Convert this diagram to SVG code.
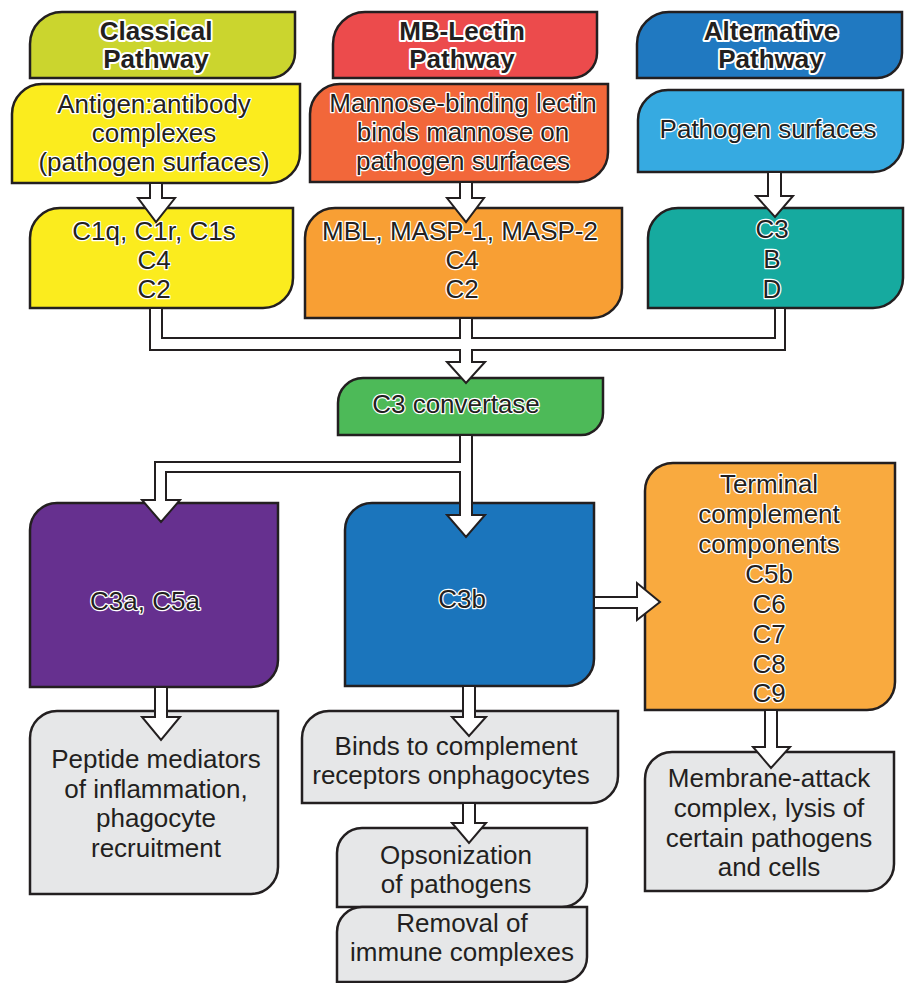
<svg xmlns="http://www.w3.org/2000/svg" width="909" height="983" viewBox="0 0 909 983">
<style>
.box{stroke:#231f20;stroke-width:2.5}
.hd{font-family:"Liberation Sans",Arial,sans-serif;font-weight:bold;font-size:26px;fill:#231f20;stroke:#fff;stroke-width:4;paint-order:stroke;stroke-linejoin:round;text-anchor:middle}
.tx{font-family:"Liberation Sans",Arial,sans-serif;font-size:26px;fill:#231f20;stroke:#fff;stroke-width:2.5;paint-order:stroke;stroke-linejoin:round;text-anchor:middle}
.tp{font-family:"Liberation Sans",Arial,sans-serif;font-size:26px;fill:#231f20;text-anchor:middle}
.pipe{fill:#fff;stroke:#231f20;stroke-width:2;stroke-linejoin:miter}
</style>
<rect width="909" height="983" fill="#fff"/>
<g id="classical-header">
<path class="box" fill="#cbd52e" d="M30 78 V44 A32 32 0 0 1 62 12 H295 V53 A25 25 0 0 1 270 78 Z"/>
<text class="hd" x="156" y="40">Classical</text>
<text class="hd" x="156" y="68">Pathway</text>
</g>
<g id="mblectin-header">
<path class="box" fill="#ec4b4c" d="M333 78 V44 A32 32 0 0 1 365 12 H597 V53 A25 25 0 0 1 572 78 Z"/>
<text class="hd" x="462" y="40">MB-Lectin</text>
<text class="hd" x="462" y="68">Pathway</text>
</g>
<g id="alternative-header">
<path class="box" fill="#2079c1" d="M637 78 V44 A32 32 0 0 1 669 12 H902 V53 A25 25 0 0 1 877 78 Z"/>
<text class="hd" x="771" y="40">Alternative</text>
<text class="hd" x="771" y="68">Pathway</text>
</g>
<g id="antigen">
<path class="box" fill="#fbec1e" d="M12 183 V114 A30 30 0 0 1 42 84 H300 V153 A30 30 0 0 1 270 183 Z"/>
<text class="tx" x="154" y="113">Antigen:antibody</text>
<text class="tx" x="154" y="142">complexes</text>
<text class="tx" x="154" y="171">(pathogen surfaces)</text>
</g>
<g id="mannose">
<path class="box" fill="#f2673a" d="M310 182 V114 A30 30 0 0 1 340 84 H608 V152 A30 30 0 0 1 578 182 Z"/>
<text class="tx" x="463" y="112">Mannose-binding lectin</text>
<text class="tx" x="463" y="141">binds mannose on</text>
<text class="tx" x="463" y="170">pathogen surfaces</text>
</g>
<g id="pathogen">
<path class="box" fill="#36aae1" d="M638 172 V120 A30 30 0 0 1 668 90 H903 V142 A30 30 0 0 1 873 172 Z"/>
<text class="tx" x="768" y="138">Pathogen surfaces</text>
</g>
<g id="c1">
<path class="box" fill="#fbec1e" d="M30 308 V238 A30 30 0 0 1 60 208 H293 V278 A30 30 0 0 1 263 308 Z"/>
<text class="tx" x="154" y="240">C1q, C1r, C1s</text>
<text class="tx" x="154" y="269">C4</text>
<text class="tx" x="154" y="298">C2</text>
</g>
<g id="mbl">
<path class="box" fill="#f89f34" d="M305 318 V238 A30 30 0 0 1 335 208 H622 V288 A30 30 0 0 1 592 318 Z"/>
<text class="tx" x="460" y="240">MBL, MASP-1, MASP-2</text>
<text class="tx" x="462" y="269">C4</text>
<text class="tx" x="462" y="298">C2</text>
</g>
<g id="c3bd">
<path class="box" fill="#16aa9f" d="M648 308 V238 A30 30 0 0 1 678 208 H903 V278 A30 30 0 0 1 873 308 Z"/>
<text class="tx" x="772" y="238">C3</text>
<text class="tx" x="772" y="268">B</text>
<text class="tx" x="772" y="298">D</text>
</g>
<g id="c3convertase">
<path class="box" fill="#4dba58" d="M338 435 V403 A25 25 0 0 1 363 378 H603 V413 A22 22 0 0 1 581 435 Z"/>
<text class="tx" x="456" y="413">C3 convertase</text>
</g>
<g id="c3a-c5a">
<path class="box" fill="#66308f" d="M30 687 V530 A27 27 0 0 1 57 503 H278 V660 A27 27 0 0 1 251 687 Z"/>
<text class="tx" x="145" y="610">C3a, C5a</text>
</g>
<g id="c3b">
<path class="box" fill="#1b75bc" d="M345 686 V530 A27 27 0 0 1 372 503 H594 V659 A27 27 0 0 1 567 686 Z"/>
<text class="tx" x="462" y="608">C3b</text>
</g>
<g id="terminal">
<path class="box" fill="#f9aa3f" d="M645 710 V491 A28 28 0 0 1 673 463 H895 V682 A28 28 0 0 1 867 710 Z"/>
<text class="tx" x="769" y="493">Terminal</text>
<text class="tx" x="769" y="523">complement</text>
<text class="tx" x="769" y="553">components</text>
<text class="tx" x="769" y="583">C5b</text>
<text class="tx" x="769" y="613">C6</text>
<text class="tx" x="769" y="643">C7</text>
<text class="tx" x="769" y="673">C8</text>
<text class="tx" x="769" y="702">C9</text>
</g>
<g id="peptide">
<path class="box" fill="#e6e7e8" d="M30 894 V738 A27 27 0 0 1 57 711 H278 V867 A27 27 0 0 1 251 894 Z"/>
<text class="tp" x="156" y="768">Peptide mediators</text>
<text class="tp" x="156" y="798">of inflammation,</text>
<text class="tp" x="156" y="827">phagocyte</text>
<text class="tp" x="156" y="857">recruitment</text>
</g>
<g id="binds">
<path class="box" fill="#e6e7e8" d="M302 803 V738 A27 27 0 0 1 329 711 H618 V776 A27 27 0 0 1 591 803 Z"/>
<text class="tp" x="456" y="755">Binds to complement</text>
<text class="tp" x="451" y="784">receptors onphagocytes</text>
</g>
<g id="opsonization">
<path class="box" fill="#e6e7e8" d="M337 907 V853 A25 25 0 0 1 362 828 H587 V882 A25 25 0 0 1 562 907 Z"/>
<text class="tp" x="456" y="864">Opsonization</text>
<text class="tp" x="456" y="893">of pathogens</text>
</g>
<g id="removal">
<path class="box" fill="#e6e7e8" d="M337 982 V932 A25 25 0 0 1 362 907 H587 V957 A25 25 0 0 1 562 982 Z"/>
<text class="tp" x="462" y="932">Removal of</text>
<text class="tp" x="462" y="961">immune complexes</text>
</g>
<g id="membrane">
<path class="box" fill="#e6e7e8" d="M645 891 V779 A27 27 0 0 1 672 752 H894 V864 A27 27 0 0 1 867 891 Z"/>
<text class="tp" x="769" y="787">Membrane-attack</text>
<text class="tp" x="769" y="817">complex, lysis of</text>
<text class="tp" x="769" y="847">certain pathogens</text>
<text class="tp" x="769" y="876">and cells</text>
</g>
<g id="connectors">
<polygon class="pipe" points="150,183 150,198 138,198 156,222 175,198 162,198 162,183"/>
<polygon class="pipe" points="460,182 460,198 447,198 466,222 484,198 472,198 472,182"/>
<polygon class="pipe" points="768,172 768,196 756,196 775,217 793,196 781,196 781,172"/>
<polygon class="pipe" points="150,308 150,350 460,350 460,362 447,362 466,383 485,362 472,362 472,350 785,350 785,308 775,308 775,338 472,338 472,318 460,318 460,338 162,338 162,308"/>
<polygon class="pipe" points="460,435 460,462 155,462 155,500 142,500 161,522 180,500 166,500 166,472 460,472 460,515 447,515 466,537 485,515 472,515 472,435"/>
<polygon class="pipe" points="594,597 637,597 637,583 660,602 637,620 637,608 594,608"/>
<polygon class="pipe" points="155,687 155,717 142,717 161,740 180,717 167,717 167,687"/>
<polygon class="pipe" points="463,686 463,717 452,717 469,736 486,717 475,717 475,686"/>
<polygon class="pipe" points="463,803 463,823 452,823 469,843 486,823 475,823 475,803"/>
<polygon class="pipe" points="765,710 765,747 753,747 771,768 790,747 777,747 777,710"/>
</g>
</svg>
